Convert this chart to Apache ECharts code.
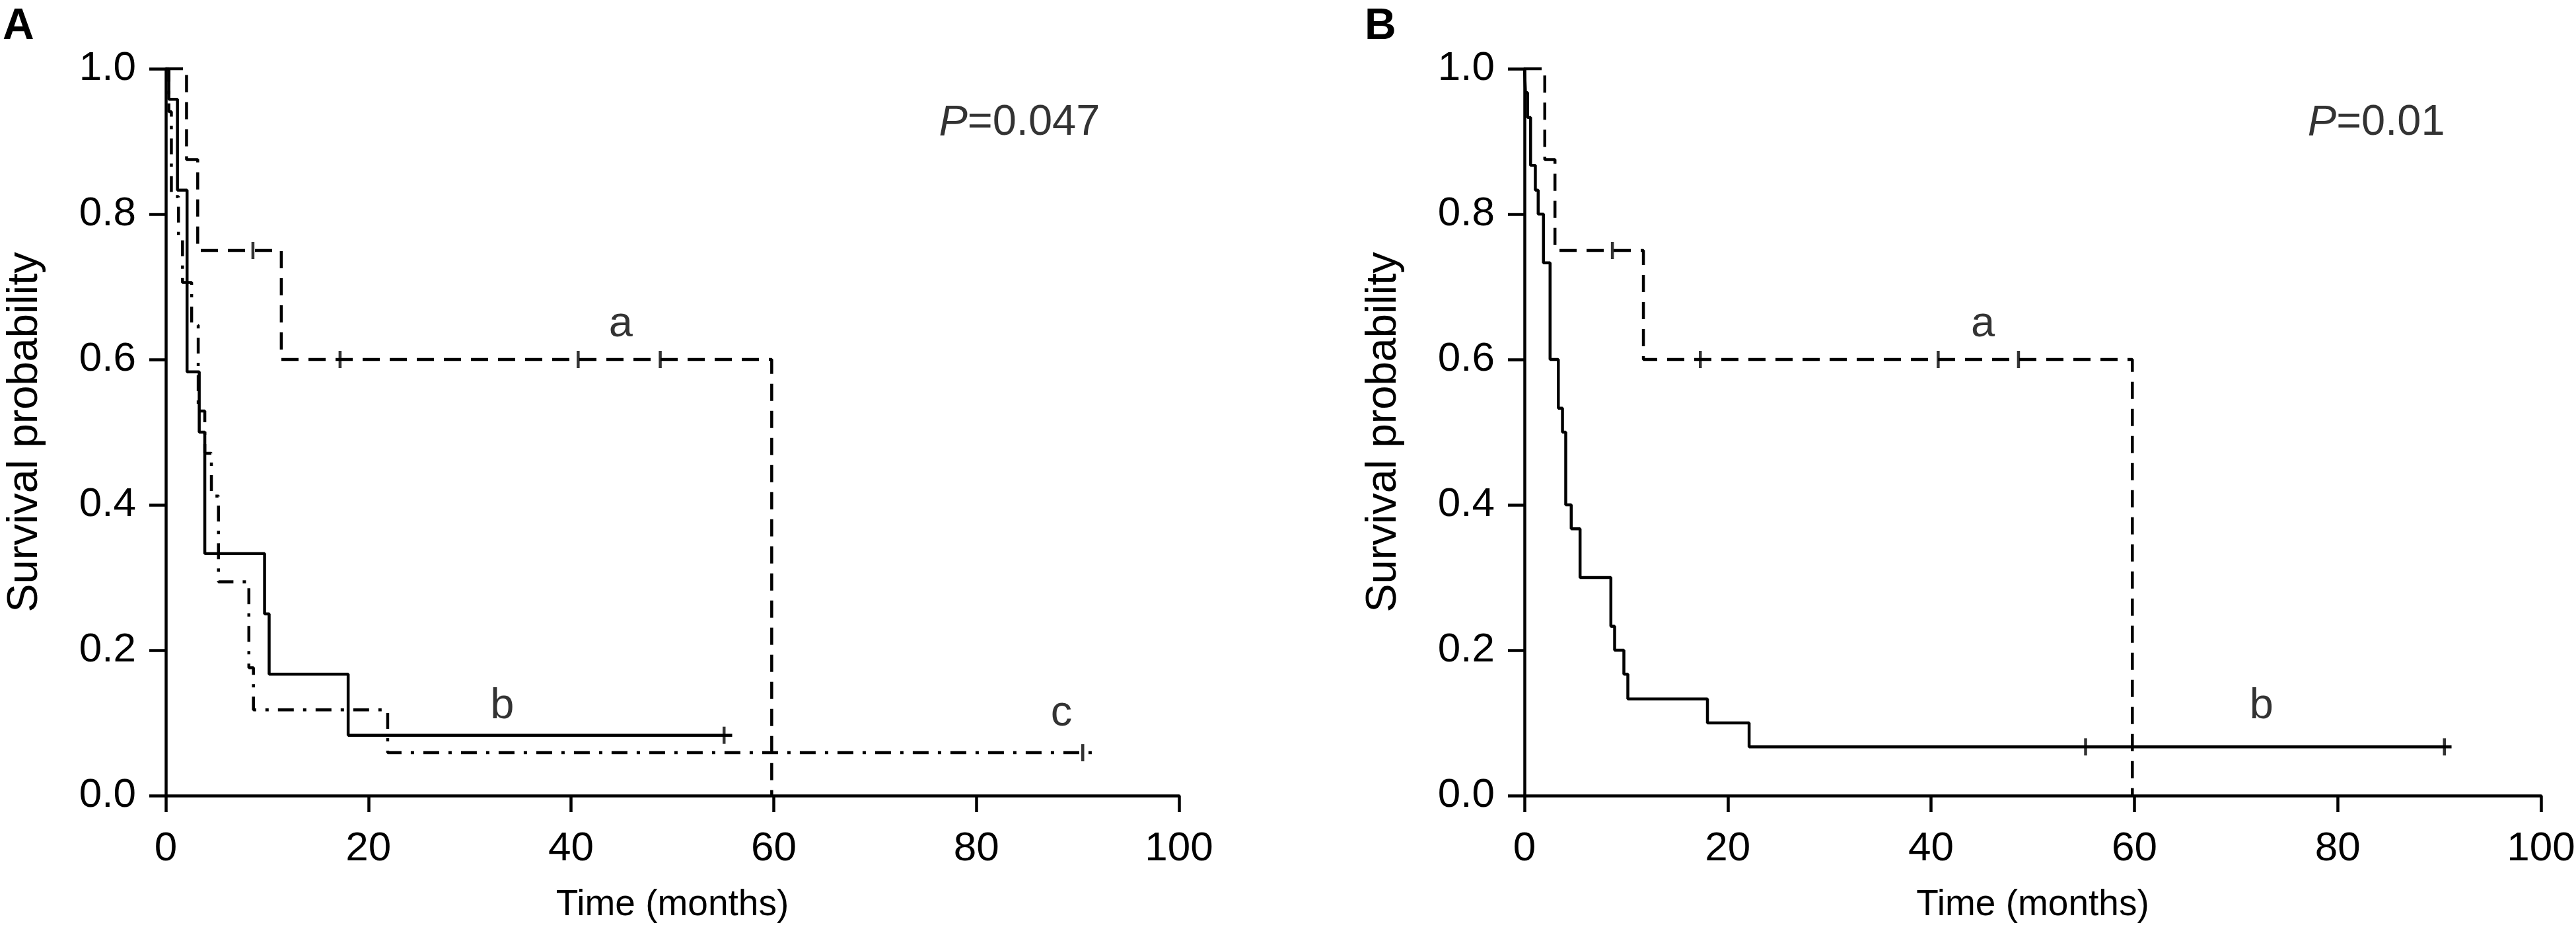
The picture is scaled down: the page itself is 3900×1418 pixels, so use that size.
<!DOCTYPE html>
<html>
<head>
<meta charset="utf-8">
<script src="https://cdn.jsdelivr.net/npm/echarts@6/dist/echarts.min.js"></script>
<style>
  html, body { margin: 0; padding: 0; background: #fff; }
  #chart { width: 3900px; height: 1418px; }
</style>
</head>
<body>
<div id="chart"></div>
<script>
// Panel A, curve a (dashed)
const aTimeA = [0, 2.05, 3.15, 11.4, 59.8];
const aSurvA = [1, 0.875, 0.75, 0.6, 0];
const aCensTimeA = [8.6, 17.2, 40.7, 48.8];
const aCensSurvA = [0.75, 0.6, 0.6, 0.6];

// Panel A, curve b (solid)
const bTimeA = [0, 0.3, 1.15, 2.1, 3.3, 3.85, 9.75, 10.2, 18.0, 55.9];
const bSurvA = [1, 0.958, 0.833, 0.583, 0.5, 0.333, 0.25, 0.167, 0.083, 0.083];
const bCensTimeA = [55.1];
const bCensSurvA = [0.083];

// Panel A, curve c (dash-dot)
const cTimeA = [0, 0.3, 0.55, 1.25, 1.65, 2.55, 3.2, 3.85, 4.5, 5.2, 8.2, 8.65, 21.9, 91.4];
const cSurvA = [1, 0.941, 0.824, 0.765, 0.706, 0.647, 0.529, 0.471, 0.412, 0.294, 0.176, 0.118, 0.059, 0.059];
const cCensTimeA = [90.5];
const cCensSurvA = [0.059];

// Panel B, curve a (dashed)
const aTimeB = [0, 2.0, 3.0, 11.7, 59.8];
const aSurvB = [1, 0.875, 0.75, 0.6, 0];
const aCensTimeB = [8.65, 17.3, 40.7, 48.6];
const aCensSurvB = [0.75, 0.6, 0.6, 0.6];

// Panel B, curve b (solid)
const bTimeB = [0, 0.1, 0.31, 0.6, 1.07, 1.35, 1.87, 2.52, 3.33, 3.74, 4.06, 4.6, 5.47, 8.5, 8.87, 9.78, 10.17, 18.0, 22.1, 91.2];
const bSurvB = [1, 0.967, 0.933, 0.867, 0.833, 0.8, 0.733, 0.6, 0.533, 0.5, 0.4, 0.367, 0.3, 0.233, 0.2, 0.167, 0.133, 0.1, 0.067, 0.067];
const bCensTimeB = [55.2, 90.5];
const bCensSurvB = [0.067, 0.067];

// curve labels and p-values
const labelsA = [["a", 44.9, 0.648], ["b", 33.2, 0.123], ["c", 88.4, 0.113]];
const labelsB = [["a", 45.1, 0.648], ["b", 72.5, 0.123]];
const pValueA = ["0.047", 84.25, 0.925];
const pValueB = ["0.01", 83.8, 0.925];

const font = "'Liberation Sans', Arial, sans-serif";
const zip = (t, s) => t.map((x, i) => [x, s[i]]);

function stepLine(idx, t, s, type) {
  return {
    type: "line", xAxisIndex: idx, yAxisIndex: idx, step: "end",
    data: zip(t, s), symbol: "none", silent: true,
    lineStyle: { color: "#000", width: 4.5, type: type, cap: "butt" },
  };
}

function censors(idx, t, s) {
  return {
    type: "scatter", xAxisIndex: idx, yAxisIndex: idx,
    data: zip(t, s), symbol: "rect", symbolSize: [4.5, 26],
    itemStyle: { color: "#000" }, silent: true,
  };
}

function textMarks(idx, list) {
  return {
    type: "scatter", xAxisIndex: idx, yAxisIndex: idx, symbolSize: 0, silent: true,
    data: list.map(([name, x, y]) => ({ name, value: [x, y] })),
    label: { show: true, position: "inside", formatter: "{b}", color: "#000", fontSize: 65, fontFamily: font },
  };
}

function pMark(idx, p) {
  return {
    type: "scatter", xAxisIndex: idx, yAxisIndex: idx, symbolSize: 0, silent: true,
    data: [{ name: p[0], value: [p[1], p[2]] }],
    label: {
      show: true, position: "inside", color: "#000", fontSize: 65, fontFamily: font,
      formatter: (d) => "{i|P}{n|=" + d.name + "}",
      rich: {
        i: { fontStyle: "italic", fontSize: 65, fontFamily: font, color: "#000" },
        n: { fontSize: 65, fontFamily: font, color: "#000" },
      },
    },
  };
}

const axisLine = { show: true, lineStyle: { color: "#000", width: 4.5 } };
const axisTick = { show: true, length: 25, lineStyle: { color: "#000", width: 4.5 } };

function xAxis(idx) {
  return {
    type: "value", gridIndex: idx, min: 0, max: 100, interval: 20,
    name: "Time (months)", nameLocation: "middle", nameGap: 138,
    nameTextStyle: { color: "#000", fontSize: 55, fontFamily: font },
    axisLine, axisTick,
    axisLabel: { color: "#000", fontSize: 62, fontFamily: font, margin: 50 },
    splitLine: { show: false },
  };
}

function yAxis(idx) {
  return {
    type: "value", gridIndex: idx, min: 0, max: 1, interval: 0.2,
    name: "Survival probability", nameLocation: "middle", nameGap: 180,
    nameTextStyle: { color: "#000", fontSize: 65, fontFamily: font },
    axisLine, axisTick,
    axisLabel: { color: "#000", fontSize: 62, fontFamily: font, margin: 45, formatter: (v) => v.toFixed(1) },
    splitLine: { show: false },
  };
}

const chart = echarts.init(document.getElementById("chart"));
chart.setOption({
  animation: false,
  backgroundColor: "#fff",
  grid: [
    { left: 251, top: 104, width: 1534, height: 1100, containLabel: false, outerBoundsMode: "none" },
    { left: 2308, top: 104, width: 1539, height: 1100, containLabel: false, outerBoundsMode: "none" },
  ],
  xAxis: [xAxis(0), xAxis(1)],
  yAxis: [yAxis(0), yAxis(1)],
  graphic: [
    { type: "text", left: 4, top: 8, style: { text: "A", fontSize: 66, fontWeight: "bold", fontFamily: font, fill: "#000" } },
    { type: "text", left: 2066, top: 8, style: { text: "B", fontSize: 66, fontWeight: "bold", fontFamily: font, fill: "#000" } },
  ],
  series: [
    stepLine(0, aTimeA, aSurvA, [26, 15]),
    stepLine(0, bTimeA, bSurvA, "solid"),
    stepLine(0, cTimeA, cSurvA, [24, 14, 5, 14]),
    censors(0, aCensTimeA, aCensSurvA),
    censors(0, bCensTimeA, bCensSurvA),
    censors(0, cCensTimeA, cCensSurvA),
    textMarks(0, labelsA),
    pMark(0, pValueA),

    stepLine(1, aTimeB, aSurvB, [26, 15]),
    stepLine(1, bTimeB, bSurvB, "solid"),
    censors(1, aCensTimeB, aCensSurvB),
    censors(1, bCensTimeB, bCensSurvB),
    textMarks(1, labelsB),
    pMark(1, pValueB),
  ],
});
</script>
</body>
</html>
